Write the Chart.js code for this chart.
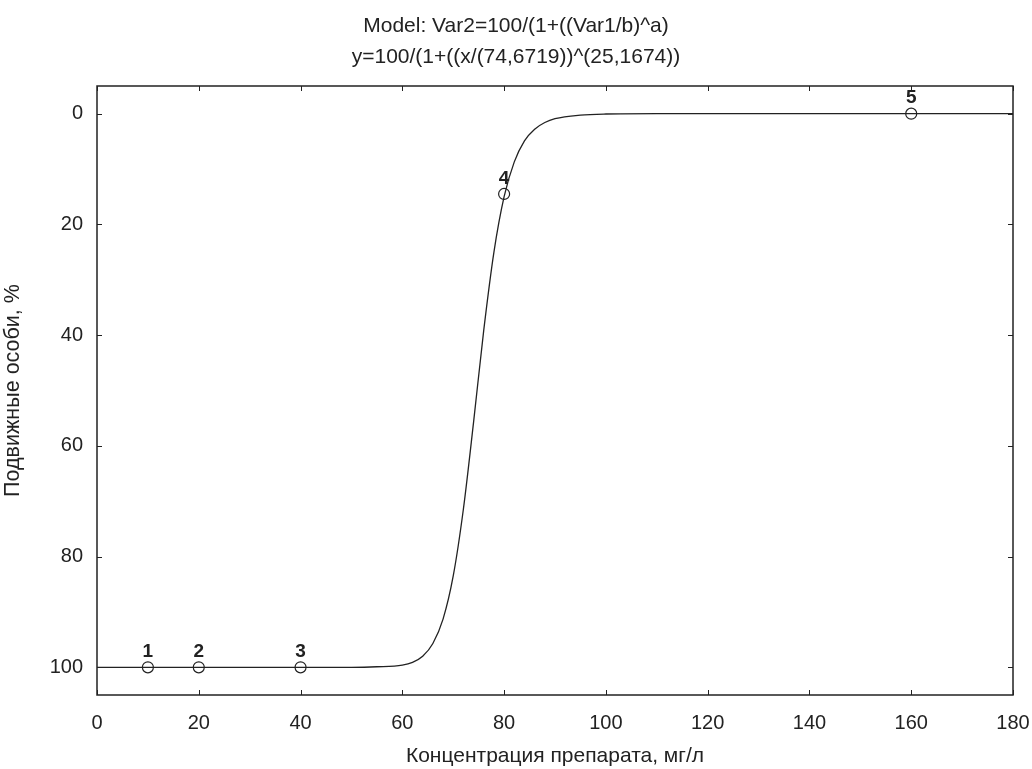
<!DOCTYPE html>
<html>
<head>
<meta charset="utf-8">
<script src="https://cdn.jsdelivr.net/npm/chart.js@4"></script>
<style>
  html, body { margin: 0; padding: 0; background: #fff; }
  #wrap { width: 1032px; height: 769px; }
</style>
</head>
<body>
<div id="wrap"><canvas id="grafico" width="1032" height="769"></canvas></div>
<script>
// datos
var xTicks = [0, 20, 40, 60, 80, 100, 120, 140, 160, 180];
var yTicks = [0, 20, 40, 60, 80, 100];

// puntos observados
var puntoX = [10, 20, 40, 80, 160];
var puntoY = [100, 100, 100, 14.5, 0];
var puntoLabel = ['1', '2', '3', '4', '5'];

var curvaX = [0, 10, 20, 30, 40, 50, 55, 60, 62, 64, 66, 68, 70, 72, 74, 76, 78, 80, 82, 84, 86, 88, 90, 95, 100, 110, 120, 140, 160, 180];
var curvaY = [100, 100, 100, 100, 100, 100, 99.9, 99.6, 99.1, 98, 95.7, 91.3, 83.5, 71.4, 55.7, 39.1, 25, 15, 8.7, 4.9, 2.8, 1.6, 0.9, 0.25, 0.06, 0, 0, 0, 0, 0];

var colorTinta = '#222222';
var fuente = 'Arial, "Liberation Sans", sans-serif';

var curva = curvaX.map(function (x, i) { return { x: x, y: curvaY[i] }; });
var puntos = puntoX.map(function (x, i) { return { x: x, y: puntoY[i] }; });

// ticks hacia adentro en los cuatro lados + borde + etiquetas de puntos
var marcos = {
  id: 'marcos',
  afterDraw: function (chart) {
    var ctx = chart.ctx, a = chart.chartArea;
    var sx = chart.scales.x, sy = chart.scales.y;
    ctx.save();
    ctx.strokeStyle = colorTinta;
    ctx.lineWidth = 1.5;
    ctx.strokeRect(a.left, a.top, a.right - a.left, a.bottom - a.top);
    ctx.lineWidth = 1;
    xTicks.forEach(function (v) {
      var px = Math.round(sx.getPixelForValue(v)) + 0.5;
      ctx.beginPath();
      ctx.moveTo(px, a.bottom); ctx.lineTo(px, a.bottom - 5);
      ctx.moveTo(px, a.top); ctx.lineTo(px, a.top + 5);
      ctx.stroke();
    });
    yTicks.forEach(function (v) {
      var py = Math.round(sy.getPixelForValue(v)) + 0.5;
      ctx.beginPath();
      ctx.moveTo(a.left, py); ctx.lineTo(a.left + 5, py);
      ctx.moveTo(a.right, py); ctx.lineTo(a.right - 5, py);
      ctx.stroke();
    });
    // numeros de los puntos
    ctx.fillStyle = colorTinta;
    ctx.font = 'bold 19px ' + fuente;
    ctx.textAlign = 'center';
    ctx.textBaseline = 'bottom';
    puntoX.forEach(function (x, i) {
      ctx.fillText(puntoLabel[i], sx.getPixelForValue(x), sy.getPixelForValue(puntoY[i]) - 6);
    });
    ctx.restore();
  }
};

var ctxGraf = document.getElementById('grafico').getContext('2d');
var chart = new Chart(ctxGraf, {
  type: 'scatter',
  data: {
    datasets: [
      {
        label: 'curva',
        data: curva,
        showLine: true,
        borderColor: colorTinta,
        borderWidth: 1.3,
        pointRadius: 0,
        cubicInterpolationMode: 'monotone',
        order: 2
      },
      {
        label: 'puntos',
        data: puntos,
        showLine: false,
        borderColor: colorTinta,
        backgroundColor: 'rgba(0,0,0,0)',
        borderWidth: 1.2,
        pointRadius: 5.5,
        pointStyle: 'circle',
        order: 1
      }
    ]
  },
  plugins: [marcos],
  options: {
    responsive: false,
    animation: false,
    layout: { padding: { left: 0, right: 0, top: 0, bottom: 0 } },
    plugins: {
      legend: { display: false },
      tooltip: { enabled: false },
      title: {
        display: true,
        text: ['Model: Var2=100/(1+((Var1/b)^a)', 'y=100/(1+((x/(74,6719))^(25,1674))'],
        color: colorTinta,
        font: { family: fuente, size: 21, weight: 'normal', lineHeight: 1.5 },
        padding: { top: 10, bottom: 13 }
      }
    },
    scales: {
      x: {
        type: 'linear',
        min: 0,
        max: 180,
        afterBuildTicks: function (s) { s.ticks = xTicks.map(function (v) { return { value: v }; }); },
        afterFit: function (s) { s.height = 74; s.paddingRight = 19; s.paddingLeft = 0; },
        grid: { display: false },
        border: { display: false },
        ticks: { color: colorTinta, font: { family: fuente, size: 20 }, padding: 8, maxRotation: 0 },
        title: { display: true, text: 'Концентрация препарата, мг/л', color: colorTinta, font: { family: fuente, size: 21 }, padding: { top: 6, bottom: 0 } }
      },
      y: {
        type: 'linear',
        min: -5,
        max: 105,
        reverse: true,
        afterBuildTicks: function (s) { s.ticks = yTicks.map(function (v) { return { value: v }; }); },
        afterFit: function (s) { s.width = 97; },
        grid: { display: false },
        border: { display: false },
        ticks: { color: colorTinta, font: { family: fuente, size: 20 }, padding: 6 },
        title: { display: true, text: 'Подвижные особи, %', color: colorTinta, font: { family: fuente, size: 21.5 }, padding: { top: 0, bottom: 8 } }
      }
    }
  }
});
</script>
</body>
</html>
